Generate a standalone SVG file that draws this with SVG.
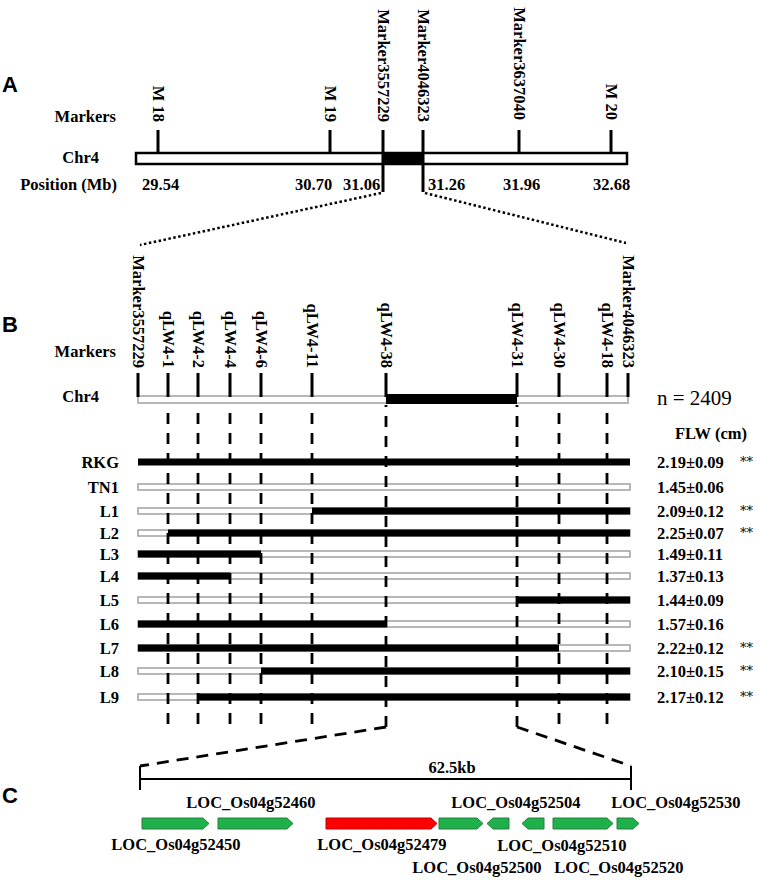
<svg xmlns="http://www.w3.org/2000/svg" width="760" height="880" viewBox="0 0 760 880">
<defs>
<style>
text{font-family:"Liberation Serif","Times New Roman",serif;font-weight:bold;font-size:16.5px;fill:#000}
.pan{font-family:"Liberation Sans",Arial,sans-serif;font-size:22px}
.e{text-anchor:end}
.m{text-anchor:middle}
.n{font-weight:normal;font-size:21px}
.ast{font-family:"DejaVu Serif","Liberation Serif",serif;font-weight:normal;font-size:13px;fill:#000}
.tick{stroke:#000;stroke-width:3;fill:none}
.dot{stroke:#000;stroke-width:2.5;stroke-dasharray:2.5 2.5;fill:none}
.dash{stroke:#000;stroke-width:2.8;stroke-dasharray:11 9;fill:none}
.dashd{stroke:#000;stroke-width:2.8;stroke-dasharray:12 8;fill:none}
.wb{fill:#fff;stroke:#a0a0a0;stroke-width:1.5}
.bb{fill:#000}
.gr{fill:#1db04b;stroke:#2e7d3e;stroke-width:1}
.rd{fill:#ff0000;stroke:#c00000;stroke-width:1}
</style>
</defs>
<rect width="760" height="880" fill="#fff"/>

<!-- Panel A -->
<g id="panelA">
<text class="pan" x="2" y="92">A</text>
<text class="e" x="116" y="122">Markers</text>
<text class="e" x="99" y="163">Chr4</text>
<text class="e" x="117" y="190">Position (Mb)</text>
<rect x="136" y="153" width="491" height="11" fill="#fff" stroke="#000" stroke-width="2.5"/>
<rect x="383" y="153" width="40" height="11" fill="#000"/>
<path class="tick" d="M158,130V153M330,130V153M383,130V192M423,130V192M519,130V153M611,130V153"/>
<text transform="translate(152.5,122) rotate(90)" class="e">M 18</text>
<text transform="translate(324.5,122) rotate(90)" class="e">M 19</text>
<text transform="translate(377.5,122) rotate(90)" class="e">Marker3557229</text>
<text transform="translate(417.5,122) rotate(90)" class="e">Marker4046323</text>
<text transform="translate(513.5,120) rotate(90)" class="e">Marker3637040</text>
<text transform="translate(605.5,120) rotate(90)" class="e">M 20</text>
<text x="142" y="190">29.54</text>
<text x="295" y="190">30.70</text>
<text x="343" y="190">31.06</text>
<text x="428" y="190">31.26</text>
<text x="503" y="190">31.96</text>
<text x="593" y="190">32.68</text>
</g>

<g id="zoom-lines">
<path class="dot" d="M381,193L140,245M425,193L626,243"/>
</g>

<!-- Panel B -->
<g id="panelB">
<text class="pan" x="2" y="332">B</text>
<text class="e" x="116" y="357">Markers</text>
<text class="e" x="99" y="402">Chr4</text>
<rect class="wb" x="138" y="396" width="490" height="7"/>
<rect x="386" y="394" width="131" height="10" fill="#000"/>
<path class="tick" d="M138,373V397M168,373V397M198,373V397M230,373V397M261,373V397M312,373V397M386,373V397M517,373V397M559,373V397M607,373V397M628,373V397"/>
<text transform="translate(132.5,368) rotate(90)" class="e">Marker3557229</text>
<text transform="translate(162.5,368) rotate(90)" class="e">qLW4-1</text>
<text transform="translate(192.5,368) rotate(90)" class="e">qLW4-2</text>
<text transform="translate(224.5,368) rotate(90)" class="e">qLW4-4</text>
<text transform="translate(255.5,368) rotate(90)" class="e">qLW4-6</text>
<text transform="translate(306.5,368) rotate(90)" class="e">qLW4-11</text>
<text transform="translate(380.5,368) rotate(90)" class="e">qLW4-38</text>
<text transform="translate(511.5,368) rotate(90)" class="e">qLW4-31</text>
<text transform="translate(553.5,368) rotate(90)" class="e">qLW4-30</text>
<text transform="translate(601.5,368) rotate(90)" class="e">qLW4-18</text>
<text transform="translate(622.5,368) rotate(90)" class="e">Marker4046323</text>
<text class="n" x="657" y="405">n = 2409</text>
<text x="675" y="439">FLW (cm)</text>
</g>

<g id="rows">
<g id="RKG"><text class="e" x="119" y="468">RKG</text><rect class="bb" x="138" y="458.5" width="492" height="7"/><text x="657" y="468">2.19±0.09</text><text class="ast" x="740" y="466">**</text></g>
<g id="TN1"><text class="e" x="119" y="493">TN1</text><rect class="wb" x="138" y="484" width="492" height="6"/><text x="657" y="493">1.45±0.06</text></g>
<g id="L1"><text class="e" x="119" y="517">L1</text><rect class="wb" x="138" y="508" width="492" height="6"/><rect class="bb" x="312" y="507.5" width="318" height="7"/><text x="657" y="517">2.09±0.12</text><text class="ast" x="740" y="515">**</text></g>
<g id="L2"><text class="e" x="119" y="539">L2</text><rect class="wb" x="138" y="530" width="492" height="6"/><rect class="bb" x="168" y="529.5" width="462" height="7"/><text x="657" y="539">2.25±0.07</text><text class="ast" x="740" y="537">**</text></g>
<g id="L3"><text class="e" x="119" y="560">L3</text><rect class="wb" x="138" y="551" width="492" height="6"/><rect class="bb" x="138" y="550.5" width="123" height="7"/><text x="657" y="560">1.49±0.11</text></g>
<g id="L4"><text class="e" x="119" y="582">L4</text><rect class="wb" x="138" y="573" width="492" height="6"/><rect class="bb" x="138" y="572.5" width="92" height="7"/><text x="657" y="582">1.37±0.13</text></g>
<g id="L5"><text class="e" x="119" y="606">L5</text><rect class="wb" x="138" y="597" width="492" height="6"/><rect class="bb" x="517" y="596.5" width="113" height="7"/><text x="657" y="606">1.44±0.09</text></g>
<g id="L6"><text class="e" x="119" y="630">L6</text><rect class="wb" x="138" y="621" width="492" height="6"/><rect class="bb" x="138" y="620.5" width="249" height="7"/><text x="657" y="630">1.57±0.16</text></g>
<g id="L7"><text class="e" x="119" y="654">L7</text><rect class="wb" x="138" y="645" width="492" height="6"/><rect class="bb" x="138" y="644.5" width="421" height="7"/><text x="657" y="654">2.22±0.12</text><text class="ast" x="740" y="652">**</text></g>
<g id="L8"><text class="e" x="119" y="677">L8</text><rect class="wb" x="138" y="668" width="492" height="6"/><rect class="bb" x="261" y="667.5" width="369" height="7"/><text x="657" y="677">2.10±0.15</text><text class="ast" x="740" y="675">**</text></g>
<g id="L9"><text class="e" x="119" y="703">L9</text><rect class="wb" x="138" y="694" width="492" height="6"/><rect class="bb" x="198" y="693.5" width="432" height="7"/><text x="657" y="703">2.17±0.12</text><text class="ast" x="740" y="701">**</text></g>
</g>

<g id="connectors">
<path class="dash" d="M168,724V405M198,724V405M230,724V405M261,724V405M312,724V405M559,724V405M607,724V405"/>
<path class="dash" d="M386,727V405"/>
<path class="dash" d="M517,727V405"/>
<path class="dashd" d="M386,727L140,766"/>
<path class="dashd" d="M517,727L631,766"/>
</g>

<!-- Panel C -->
<g id="panelC">
<text class="pan" x="2" y="803">C</text>
<path d="M140,766V790M140,779H631M631,766V790" stroke="#000" stroke-width="2" fill="none"/>
<text class="m" x="452" y="773">62.5kb</text>
<g id="g52450"><polygon class="gr" points="142,818 203,818 209,823.5 203,829 142,829"/><text class="m" x="176" y="850">LOC_Os04g52450</text></g>
<g id="g52460"><polygon class="gr" points="218,818 287,818 293,823.5 287,829 218,829"/><text class="m" x="251" y="808">LOC_Os04g52460</text></g>
<g id="g52479"><polygon class="rd" points="326,818 431,818 437,823.5 431,829 326,829"/><text class="m" x="382" y="850">LOC_Os04g52479</text></g>
<g id="g52500"><polygon class="gr" points="439,818 477,818 483,823.5 477,829 439,829"/><text class="m" x="477" y="873">LOC_Os04g52500</text></g>
<g id="g52504"><polygon class="gr" points="487,823.5 493,818 509,818 509,829 493,829"/><text class="m" x="516" y="808">LOC_Os04g52504</text></g>
<g id="g52510"><polygon class="gr" points="522,823.5 528,818 544,818 544,829 528,829"/><text class="m" x="562" y="851">LOC_Os04g52510</text></g>
<g id="g52520"><polygon class="gr" points="553,818 607,818 613,823.5 607,829 553,829"/><text class="m" x="619" y="873">LOC_Os04g52520</text></g>
<g id="g52530"><polygon class="gr" points="617,818 633,818 639,823.5 633,829 617,829"/><text class="m" x="676" y="808">LOC_Os04g52530</text></g>
</g>
</svg>
